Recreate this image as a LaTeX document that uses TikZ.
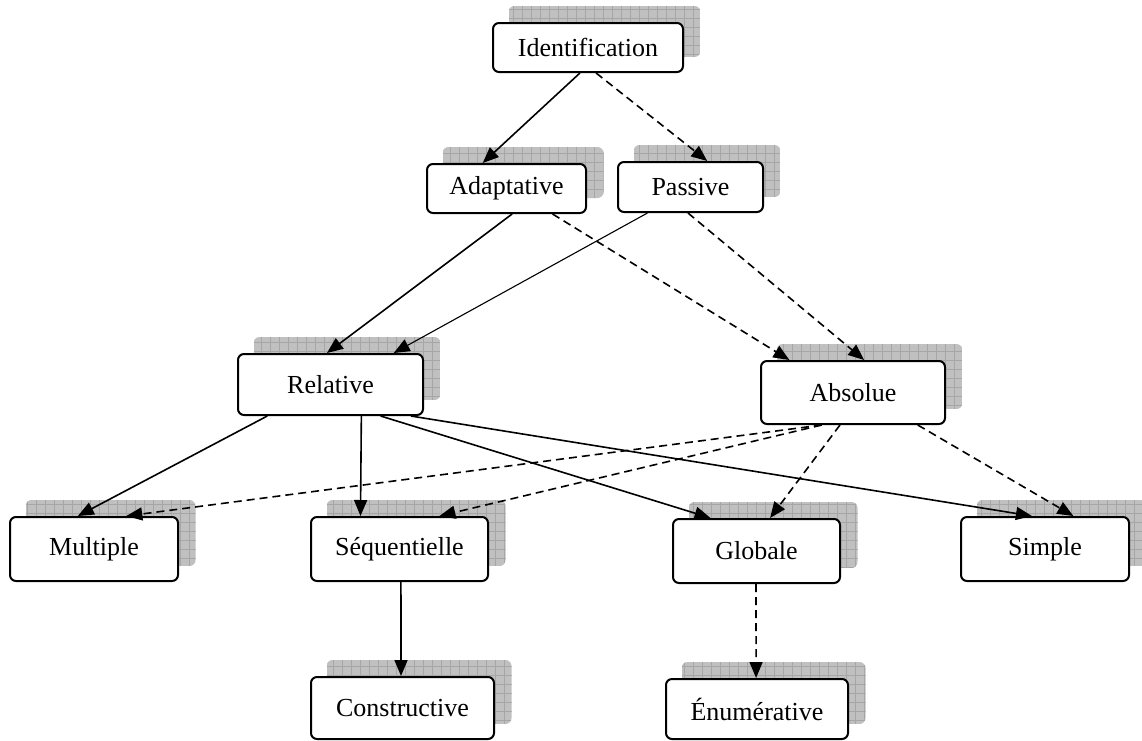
\documentclass[tikz,border=0pt]{standalone}
\usepackage{fontspec}
\setmainfont{Liberation Serif}
\usetikzlibrary{calc,arrows.meta,backgrounds}
\definecolor{shadefill}{HTML}{C0C0C0}
\definecolor{shadegrid}{HTML}{A6A6A6}
\tikzset{
  box/.style={draw=black, line width=2pt, rounded corners=6pt, fill=white,
    font=\fontsize{26}{30}\selectfont, inner sep=0pt},
  link/.style={line width=1.6pt, -{Triangle[length=16pt,width=13pt]}},
  dlink/.style={link, dash pattern=on 8pt off 5pt},
}
% grey gridded shadow behind a box, offset up and to the right
\newcommand\dropshade[1]{%
  \begin{scope}
    \clip[rounded corners=6pt] ($(#1.south west)+(16.5,-16)$) rectangle ($(#1.north east)+(16.5,-16)$);
    \fill[shadefill] ($(#1.south west)+(16.5,-16)$) rectangle ($(#1.north east)+(16.5,-16)$);
    \draw[shadegrid, line width=0.6pt, step=9pt] ($(#1.south west)+(16.5,-16)$) grid ($(#1.north east)+(16.5,-16)$);
  \end{scope}}
\begin{document}
\begin{tikzpicture}[x=1pt, y=-1pt]
\useasboundingbox (0,0) rectangle (1142,740);

% boxes
\node[box, minimum width=190pt, minimum height=49pt] (ident)   at (588,47.5)  {Identification};
\node[box, minimum width=159pt, minimum height=49pt] (adapt)   at (506.5,188.5) {Adaptative};
\node[box, minimum width=145pt, minimum height=50pt] (passive) at (690.5,187) {Passive};
\node[box, minimum width=185pt, minimum height=61pt] (rel)     at (330.5,384.5) {Relative};
\node[box, minimum width=184pt, minimum height=63pt] (abs)     at (853,392.5) {Absolue};
\node[box, minimum width=168pt, minimum height=64pt] (mult)    at (94,549) {Multiple};
\node[box, minimum width=177pt, minimum height=64pt] (seq)     at (399.5,549) {Séquentielle};
\node[box, minimum width=167pt, minimum height=64pt] (glob)    at (756.5,551) {Globale};
\node[box, minimum width=168pt, minimum height=64pt] (simple)  at (1045,549) {Simple};
\node[box, minimum width=183pt, minimum height=62pt] (constr)  at (402.5,708) {Constructive};
\node[box, minimum width=182pt, minimum height=60pt] (enum)    at (757,709) {Énumérative};

% shadows
\begin{scope}[on background layer]
  \foreach \n in {ident,adapt,passive,rel,abs,mult,seq,glob,simple,constr,enum}{\dropshade{\n}}
\end{scope}

% connectors
\draw[link]  ($(ident.south west)!0.458!(ident.south east)$) -- ($(adapt.north west)!0.352!(adapt.north east)$);
\draw[dlink] ($(ident.south west)!0.542!(ident.south east)$) -- ($(passive.north west)!0.614!(passive.north east)$);

\draw[link]  ($(adapt.south west)!0.535!(adapt.south east)$) -- ($(rel.north west)!0.481!(rel.north east)$);
\draw[dlink] ($(adapt.south west)!0.786!(adapt.south east)$) -- ($(abs.north west)!0.158!(abs.north east)$);
\draw[link, line width=1.1pt] ($(passive.south west)!0.207!(passive.south east)$) -- ($(rel.north west)!0.838!(rel.north east)$);
\draw[dlink] ($(passive.south west)!0.483!(passive.south east)$) -- ($(abs.north west)!0.56!(abs.north east)$);

\draw[link]  ($(rel.south west)!0.162!(rel.south east)$) -- ($(mult.north west)!0.405!(mult.north east)$);
\draw[link]  ($(rel.south west)!0.665!(rel.south east)$) -- ($(seq.north west)!0.282!(seq.north east)$);
\draw[link]  ($(rel.south west)!0.768!(rel.south east)$) -- ($(glob.north west)!0.228!(glob.north east)$);
\draw[link]  ($(rel.south west)!0.93!(rel.south east)$) -- ($(simple.north west)!0.423!(simple.north east)$);

\draw[dlink] ($(abs.south west)!0.332!(abs.south east)$) -- ($(mult.north west)!0.69!(mult.north east)$);
\draw[dlink] ($(abs.south west)!0.332!(abs.south east)$) -- ($(seq.north west)!0.723!(seq.north east)$);
\draw[dlink] ($(abs.south west)!0.43!(abs.south east)$) -- ($(glob.north west)!0.58!(glob.north east)$);
\draw[dlink] ($(abs.south west)!0.848!(abs.south east)$) -- ($(simple.north west)!0.667!(simple.north east)$);

\draw[link]  ($(seq.south west)!0.508!(seq.south east)$) -- ($(constr.north west)!0.492!(constr.north east)$);
\draw[dlink] ($(glob.south west)!0.497!(glob.south east)$) -- ($(enum.north west)!0.495!(enum.north east)$);
\end{tikzpicture}
\end{document}
